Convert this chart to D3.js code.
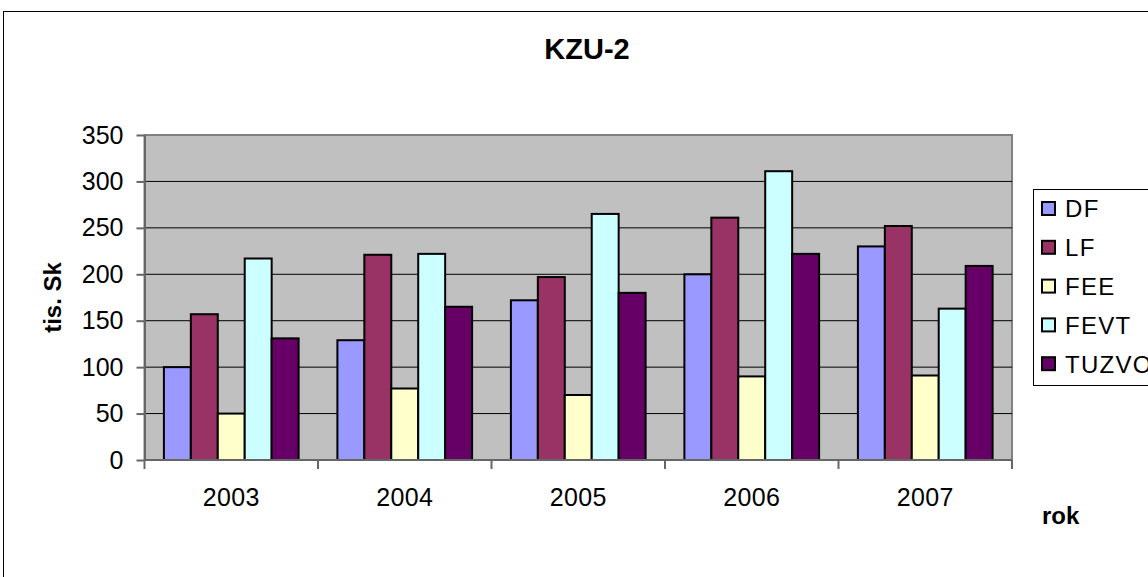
<!DOCTYPE html>
<html>
<head>
<meta charset="utf-8">
<script src="https://cdn.jsdelivr.net/npm/d3@7"></script>
<style>
  html, body { margin: 0; padding: 0; background: #fff; }
  svg { display: block; font-family: "Liberation Sans", Arial, sans-serif; }
</style>
</head>
<body>
<div id="chart"></div>
<script>
const years = ['2003', '2004', '2005', '2006', '2007'];
const seriesNames = ['DF', 'LF', 'FEE', 'FEVT', 'TUZVO'];
const dfValues = [100, 129, 172, 200, 230];
const lfValues = [157, 221, 197, 261, 252];
const feeValues = [50, 77, 70, 90, 91];
const fevtValues = [217, 222, 265, 311, 163];
const tuzvoValues = [131, 165, 180, 222, 209];
const yTicks = [0, 50, 100, 150, 200, 250, 300, 350];
const colors = ['#9999FF', '#993366', '#FFFFCC', '#CCFFFF', '#660066'];

const allSeries = [dfValues, lfValues, feeValues, fevtValues, tuzvoValues];

const width = 1148, height = 577;
const plot = { left: 144.5, right: 1012, top: 135, bottom: 460 };

const svg = d3.select('#chart').append('svg')
  .attr('width', width)
  .attr('height', height);

// outer chart frame (runs off the page on right and bottom)
svg.append('rect')
  .attr('x', 3.5).attr('y', 11.5)
  .attr('width', 1200).attr('height', 700)
  .attr('fill', '#fff').attr('stroke', '#000').attr('stroke-width', 1);

const x0 = d3.scaleBand()
  .domain(years)
  .range([plot.left, plot.right]);

const x1 = d3.scaleBand()
  .domain(seriesNames)
  .range([0, x0.bandwidth()])
  .paddingOuter(0.72);

const y = d3.scaleLinear()
  .domain([0, 350])
  .range([plot.bottom, plot.top]);

// plot background
svg.append('rect')
  .attr('x', plot.left).attr('y', plot.top)
  .attr('width', plot.right - plot.left).attr('height', plot.bottom - plot.top)
  .attr('fill', '#C0C0C0').attr('stroke', '#808080').attr('stroke-width', 2);

// gridlines
svg.append('g')
  .selectAll('line')
  .data(yTicks.filter(d => d > 0 && d < 350))
  .enter().append('line')
  .attr('x1', plot.left).attr('x2', plot.right)
  .attr('y1', d => y(d)).attr('y2', d => y(d))
  .attr('stroke', '#000').attr('stroke-width', 1);

// bars
const groups = svg.append('g')
  .selectAll('g')
  .data(years)
  .enter().append('g')
  .attr('transform', d => `translate(${x0(d)},0)`);

groups.selectAll('rect')
  .data((yr, i) => seriesNames.map((s, j) => ({ s, v: allSeries[j][i], c: colors[j] })))
  .enter().append('rect')
  .attr('x', d => x1(d.s))
  .attr('width', x1.bandwidth())
  .attr('y', d => y(d.v))
  .attr('height', d => y(0) - y(d.v))
  .attr('fill', d => d.c)
  .attr('stroke', '#000')
  .attr('stroke-width', 2);

// y axis
svg.append('g')
  .attr('transform', `translate(${plot.left},0)`)
  .call(d3.axisLeft(y).tickValues(yTicks).tickSize(8).tickPadding(13).tickSizeOuter(0))
  .call(g => g.select('.domain').attr('stroke', '#666').attr('stroke-width', 2))
  .call(g => g.selectAll('.tick line').attr('stroke', '#666').attr('stroke-width', 2))
  .call(g => g.selectAll('.tick text')
    .attr('fill', '#000').style('font-size', '25px')
    .style('font-family', '"Liberation Sans", Arial, sans-serif'));

// x axis
const xAxis = svg.append('g')
  .attr('transform', `translate(0,${plot.bottom})`);
xAxis.append('line')
  .attr('x1', plot.left).attr('x2', plot.right)
  .attr('stroke', '#666').attr('stroke-width', 2);
xAxis.selectAll('.sep')
  .data(years.map(d => x0(d)).concat([plot.right]))
  .enter().append('line')
  .attr('x1', d => d).attr('x2', d => d)
  .attr('y1', 0).attr('y2', 9)
  .attr('stroke', '#666').attr('stroke-width', 2);
xAxis.selectAll('text')
  .data(years)
  .enter().append('text')
  .attr('x', d => x0(d) + x0.bandwidth() / 2)
  .attr('y', 46)
  .attr('text-anchor', 'middle')
  .style('font-size', '25px')
  .style('letter-spacing', '0.4px')
  .text(d => d);

// titles
svg.append('text')
  .attr('x', 587).attr('y', 59)
  .attr('text-anchor', 'middle')
  .style('font-size', '29px').style('font-weight', 'bold')
  .text('KZU-2');

svg.append('text')
  .attr('x', 1042).attr('y', 524)
  .style('font-size', '24px').style('font-weight', 'bold')
  .text('rok');

svg.append('text')
  .attr('transform', `translate(61,${(plot.top + plot.bottom) / 2}) rotate(-90)`)
  .attr('text-anchor', 'middle')
  .style('font-size', '24px').style('font-weight', 'bold')
  .text('tis. Sk');

// legend
const legend = svg.append('g');
legend.append('rect')
  .attr('x', 1033.5).attr('y', 189.5)
  .attr('width', 200).attr('height', 196)
  .attr('fill', '#fff').attr('stroke', '#000').attr('stroke-width', 1);

const items = legend.selectAll('.item')
  .data(seriesNames)
  .enter().append('g')
  .attr('transform', (d, i) => `translate(1042,${209 + i * 38.8})`);
items.append('rect')
  .attr('x', 0).attr('y', -7)
  .attr('width', 13).attr('height', 13)
  .attr('fill', (d, i) => colors[i])
  .attr('stroke', '#000').attr('stroke-width', 2);
items.append('text')
  .attr('x', 23).attr('y', 0)
  .attr('dy', '0.35em')
  .style('font-size', '24px')
  .style('letter-spacing', '1.3px')
  .text(d => d);
</script>
</body>
</html>
